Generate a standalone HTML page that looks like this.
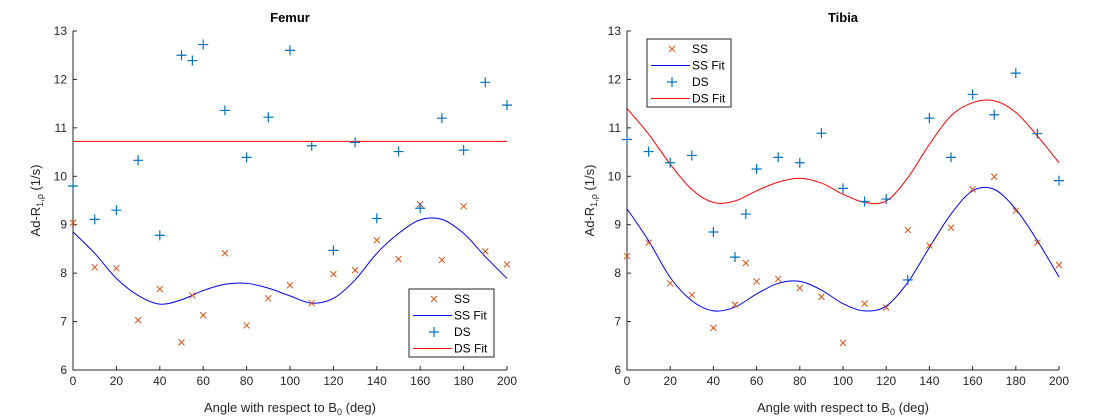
<!DOCTYPE html>
<html><head><meta charset="utf-8"><style>
body{margin:0;background:#fff;}
svg{display:block;font-family:"Liberation Sans",Arial,sans-serif;}
</style></head><body>
<svg id="fig" width="1110" height="420" viewBox="0 0 1110 420"></svg>
<script>
const angles=[0,10,20,30,40,50,55,60,70,80,90,100,110,120,130,140,150,160,170,180,190,200];
const femurSS=[9.04,8.12,8.10,7.03,7.67,6.57,7.54,7.13,8.41,6.92,7.48,7.75,7.38,7.98,8.06,8.68,8.29,9.42,8.27,9.38,8.45,8.18];
const femurDS=[9.80,9.11,9.30,10.33,8.78,12.50,12.39,12.72,11.36,10.39,11.22,12.60,10.63,8.47,10.70,9.13,10.51,9.34,11.20,10.54,11.94,11.47];
const tibiaSS=[8.35,8.63,7.79,7.55,6.87,7.35,8.21,7.83,7.88,7.69,7.51,6.56,7.37,7.29,8.89,8.57,8.94,9.73,9.99,9.29,8.63,8.17];
const tibiaDS=[10.76,10.51,10.28,10.43,8.85,8.33,9.22,10.15,10.39,10.28,10.89,9.75,9.48,9.53,7.86,11.20,10.39,11.69,11.27,12.13,10.88,9.91];
const fitAngles=[0,10,20,30,40,50,60,70,80,90,100,110,120,130,140,150,160,170,180,190,200];
const femurSSFit=[8.85,8.41,7.89,7.54,7.36,7.45,7.64,7.77,7.79,7.69,7.53,7.38,7.48,7.86,8.41,8.82,9.10,9.11,8.82,8.34,7.89];
const femurDSFit=[10.72,10.72,10.72,10.72,10.72,10.72,10.72,10.72,10.72,10.72,10.72,10.72,10.72,10.72,10.72,10.72,10.72,10.72,10.72,10.72,10.72];
const tibiaSSFit=[9.33,8.67,7.91,7.43,7.22,7.30,7.57,7.79,7.83,7.65,7.37,7.22,7.32,7.81,8.53,9.22,9.70,9.73,9.32,8.67,7.92];
const tibiaDSFit=[11.40,10.87,10.25,9.73,9.46,9.49,9.70,9.88,9.96,9.86,9.63,9.46,9.49,9.97,10.66,11.25,11.52,11.56,11.32,10.83,10.28];
const xTicks=[0,20,40,60,80,100,120,140,160,180,200];
const yTicks=[6,7,8,9,10,11,12,13];

const NS="http://www.w3.org/2000/svg";
const svg=document.getElementById('fig');
function mk(tag,attrs,parent,text){const e=document.createElementNS(NS,tag);for(const k in attrs)e.setAttribute(k,attrs[k]);if(text!==undefined)e.textContent=text;(parent||svg).appendChild(e);return e;}
function smooth(pts){let d=`M${pts[0][0]},${pts[0][1]}`;for(let i=0;i<pts.length-1;i++){const p0=pts[i-1]||pts[i],p1=pts[i],p2=pts[i+1],p3=pts[i+2]||p2;
const c1=[p1[0]+(p2[0]-p0[0])/6,p1[1]+(p2[1]-p0[1])/6],c2=[p2[0]-(p3[0]-p1[0])/6,p2[1]-(p3[1]-p1[1])/6];
d+=` C${c1[0]},${c1[1]} ${c2[0]},${c2[1]} ${p2[0]},${p2[1]}`;}return d;}
const ORANGE="#d95319",BLUE="#0072bd";
function xMark(g,x,y){mk('path',{d:`M${x-3},${y-3}L${x+3},${y+3}M${x-3},${y+3}L${x+3},${y-3}`,stroke:ORANGE,'stroke-width':1},g);}
function plus(g,x,y){mk('path',{d:`M${x-5},${y}L${x+5},${y}M${x},${y-5}L${x},${y+5}`,stroke:BLUE,'stroke-width':1.2},g);}

function panel(name,title,L,R,T,B,ss,ds,ssFit,dsFit,leg){
  const g=mk('g',{});
  
  const xs=v=>L+(v-0)/200*(R-L), ys=v=>B-(v-6)/7*(B-T);
  const t=mk('text',{x:(L+R)/2,y:22,'text-anchor':'middle','font-size':13,'font-weight':'bold',fill:'#000'},g,title);
  
  mk('path',{d:`M${L},${T}L${L},${B}L${R},${B}`,stroke:'#262626',fill:'none','stroke-width':1},g);
  xTicks.forEach(v=>{const x=xs(v);mk('line',{x1:x,x2:x,y1:B,y2:B-4,stroke:'#262626'},g);
    const l=mk('text',{x:x,y:B+15,'text-anchor':'middle','font-size':12,fill:'#262626'},g,String(v));});
  yTicks.forEach(v=>{const y=ys(v);mk('line',{x1:L,x2:L+4,y1:y,y2:y,stroke:'#262626'},g);
    const l=mk('text',{x:L-6,y:y+4,'text-anchor':'end','font-size':12,fill:'#262626'},g,String(v));});
  const xl=mk('text',{x:(L+R)/2,y:412,'text-anchor':'middle','font-size':13,fill:'#262626'},g);
  xl.innerHTML='Angle with respect to B<tspan dy="3" font-size="9">0</tspan><tspan dy="-3"> (deg)</tspan>';
  
  const yl=mk('text',{transform:`translate(${L-33},${(T+B)/2}) rotate(-90)`,'text-anchor':'middle','font-size':13,fill:'#262626'},g);
  yl.innerHTML='Ad-R<tspan dy="3" font-size="9">1,ρ</tspan><tspan dy="-3"> (1/s)</tspan>';
  
  const p1=mk('path',{d:smooth(fitAngles.map((a,i)=>[xs(a),ys(ssFit[i])])),stroke:'#0000ff',fill:'none','stroke-width':1},g);
  
  const p2=mk('path',{d:smooth(fitAngles.map((a,i)=>[xs(a),ys(dsFit[i])])),stroke:'#ff0000',fill:'none','stroke-width':1},g);
  
  angles.forEach((a,i)=>xMark(g,xs(a),ys(ss[i])));
  angles.forEach((a,i)=>plus(g,xs(a),ys(ds[i])));
  const lg=mk('g',{},g);
  mk('rect',{x:leg[0],y:leg[1],width:leg[2],height:68,fill:'#fff',stroke:'#262626','stroke-width':1},lg);
  const rows=['SS','SS Fit','DS','DS Fit'];
  rows.forEach((r,i)=>{const y=leg[1]+10+i*16.5;const lx=leg[0]+4,mx=leg[0]+25,tx=leg[0]+45;
    if(i==0)xMark(lg,mx,y);if(i==2)plus(lg,mx,y);
    if(i==1)mk('line',{x1:lx,x2:tx-2,y1:y,y2:y,stroke:'#0000ff'},lg);
    if(i==3)mk('line',{x1:lx,x2:tx-2,y1:y,y2:y,stroke:'#ff0000'},lg);
    const e=mk('text',{x:tx,y:y+4,'font-size':12,fill:'#000'},lg,r);});
}
panel('femur','Femur',73,507,31,370,femurSS,femurDS,femurSSFit,femurDSFit,[409,289,85]);
panel('tibia','Tibia',627,1059,31,370,tibiaSS,tibiaDS,tibiaSSFit,tibiaDSFit,[647,39,84]);
</script>
</body></html>
